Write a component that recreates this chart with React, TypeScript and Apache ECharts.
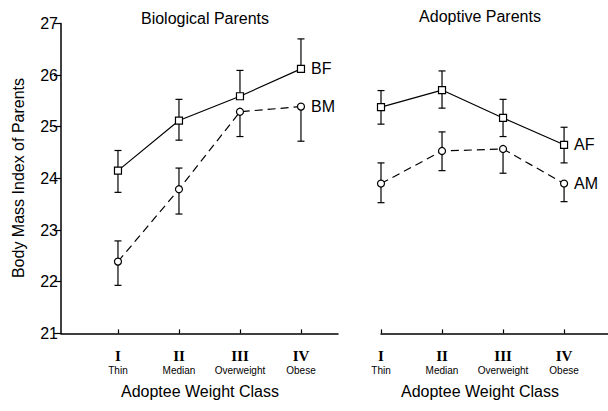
import React, { useEffect, useRef } from "react";
import * as echarts from "echarts";

const classNumerals = ["I", "II", "III", "IV"];
const classNames = ["Thin", "Median", "Overweight", "Obese"];
const classIndex = [0, 1, 2, 3];

const bfMean = [24.15, 25.12, 25.59, 26.12];
const bfUpper = [24.54, 25.53, 26.09, 26.7];
const bfLower = [23.73, 24.74, null, null];

const bmMean = [22.39, 23.79, 25.29, 25.39];
const bmUpper = [22.79, 24.2, null, null];
const bmLower = [21.93, 23.31, 24.81, 24.72];

const afMean = [25.38, 25.71, 25.17, 24.65];
const afUpper = [25.7, 26.08, 25.53, 24.99];
const afLower = [25.05, 25.36, 24.81, 24.3];

const amMean = [23.9, 24.53, 24.57, 23.9];
const amUpper = [24.3, 24.9, null, null];
const amLower = [23.53, 24.15, 24.1, 23.55];

const SANS = "Liberation Sans";
const SERIF = "Liberation Serif";

function errData(mean: number[], lo: (number | null)[], hi: (number | null)[]) {
  return mean.map((m, i) => [
    classIndex[i],
    lo[i] == null ? m : lo[i],
    hi[i] == null ? m : hi[i],
    lo[i] == null ? 0 : 1,
    hi[i] == null ? 0 : 1,
  ]);
}

function renderErr(params: any, api: any) {
  const x = api.value(0);
  const pLo = api.coord([x, api.value(1)]);
  const pHi = api.coord([x, api.value(2)]);
  const hw = 3.5;
  const st = { stroke: "#000", lineWidth: 1.2 };
  const children: any[] = [
    { type: "line", shape: { x1: pLo[0], y1: pLo[1], x2: pHi[0], y2: pHi[1] }, style: st },
  ];
  if (api.value(3)) children.push({ type: "line", shape: { x1: pLo[0] - hw, y1: pLo[1], x2: pLo[0] + hw, y2: pLo[1] }, style: st });
  if (api.value(4)) children.push({ type: "line", shape: { x1: pHi[0] - hw, y1: pHi[1], x2: pHi[0] + hw, y2: pHi[1] }, style: st });
  return { type: "group", children };
}

function errSeries(name: string, axis: number, mean: number[], lo: (number | null)[], hi: (number | null)[]) {
  return {
    type: "custom",
    name: name + " err",
    xAxisIndex: axis,
    yAxisIndex: axis,
    renderItem: renderErr,
    encode: { x: 0, y: [1, 2] },
    data: errData(mean, lo, hi),
    z: 2,
    silent: true,
  };
}

function lineSeries(name: string, axis: number, mean: number[], symbol: string, dashed: boolean) {
  return {
    type: "line",
    name,
    xAxisIndex: axis,
    yAxisIndex: axis,
    data: mean.map((v, i) => [classIndex[i], v]),
    symbol,
    symbolSize: 7,
    showAllSymbol: true,
    itemStyle: { color: "#fff", borderColor: "#000", borderWidth: 1.2 },
    lineStyle: { color: "#000", width: 1.2, type: dashed ? [8, 5] : "solid" },
    endLabel: {
      show: true,
      formatter: "{a}",
      fontFamily: SANS,
      fontSize: 16,
      color: "#000",
      distance: 10,
    },
    z: 3,
  };
}

function xAxisCfg(grid: number, min: number, max: number) {
  return {
    type: "value",
    gridIndex: grid,
    min,
    max,
    axisLine: { show: true, onZero: false, lineStyle: { color: "#000", width: 1.5 } },
    splitLine: { show: false },
    axisTick: {
      show: true,
      customValues: classIndex,
      inside: true,
      length: 4,
      lineStyle: { color: "#000", width: 1.2 },
    },
    axisLabel: {
      customValues: classIndex,
      margin: 15,
      formatter: (v: number) => {
        const i = Math.round(v);
        return `{n|${classNumerals[i]}}\n{c|${classNames[i]}}`;
      },
      rich: {
        n: { fontFamily: SERIF, fontSize: 15, fontWeight: "bold", lineHeight: 16, color: "#000" },
        c: { fontFamily: SANS, fontSize: 10, lineHeight: 13, color: "#000" },
      },
    },
  };
}

export default function App() {
  const ref = useRef<HTMLDivElement>(null);
  useEffect(() => {
    if (!ref.current) return;
    const chart = echarts.init(ref.current, null, { renderer: "svg" });
    chart.setOption({
      animation: false,
      backgroundColor: "#fff",
      grid: [
        { left: 61, top: 23.4, width: 277, height: 310 },
        { left: 381, top: 23.4, width: 227, height: 310 },
      ],
      xAxis: [xAxisCfg(0, -0.934, 3.607), xAxisCfg(1, 0, 3.72)],
      yAxis: [
        {
          type: "value",
          gridIndex: 0,
          min: 21,
          max: 27,
          interval: 1,
          axisLine: { show: true, onZero: false, lineStyle: { color: "#000", width: 1.5 } },
          axisTick: { show: true, length: 7, lineStyle: { color: "#000", width: 1.2 } },
          axisLabel: { fontFamily: SANS, fontSize: 16, color: "#000", margin: 3 },
          splitLine: { show: false },
        },
        {
          type: "value",
          gridIndex: 1,
          min: 21,
          max: 27,
          interval: 1,
          show: false,
          splitLine: { show: false },
        },
      ],
      graphic: [
        {
          type: "text",
          x: 205,
          y: 18,
          style: { text: "Biological Parents", fontFamily: SANS, fontSize: 16, fill: "#000", textAlign: "center", textVerticalAlign: "middle" },
        },
        {
          type: "text",
          x: 480,
          y: 16,
          style: { text: "Adoptive Parents", fontFamily: SANS, fontSize: 16, fill: "#000", textAlign: "center", textVerticalAlign: "middle" },
        },
        {
          type: "text",
          x: 200,
          y: 391,
          style: { text: "Adoptee Weight Class", fontFamily: SANS, fontSize: 16, fill: "#000", textAlign: "center", textVerticalAlign: "middle" },
        },
        {
          type: "text",
          x: 480,
          y: 391,
          style: { text: "Adoptee Weight Class", fontFamily: SANS, fontSize: 16, fill: "#000", textAlign: "center", textVerticalAlign: "middle" },
        },
        {
          type: "text",
          x: 18,
          y: 178,
          rotation: Math.PI / 2,
          style: { text: "Body Mass Index of Parents", fontFamily: SANS, fontSize: 16, fill: "#000", textAlign: "center", textVerticalAlign: "middle" },
        },
      ],
      series: [
        errSeries("BF", 0, bfMean, bfLower, bfUpper),
        errSeries("BM", 0, bmMean, bmLower, bmUpper),
        errSeries("AF", 1, afMean, afLower, afUpper),
        errSeries("AM", 1, amMean, amLower, amUpper),
        lineSeries("BF", 0, bfMean, "rect", false),
        lineSeries("BM", 0, bmMean, "circle", true),
        lineSeries("AF", 1, afMean, "rect", false),
        lineSeries("AM", 1, amMean, "circle", true),
      ],
    });
    return () => chart.dispose();
  }, []);
  return (
    <div
      ref={ref}
      style={{ position: "absolute", left: 0, top: 0, width: 608, height: 411 }}
    />
  );
}
